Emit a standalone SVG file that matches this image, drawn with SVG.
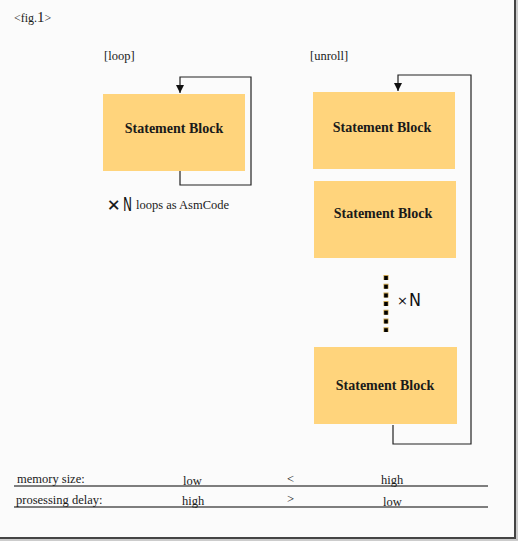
<svg xmlns="http://www.w3.org/2000/svg" width="519" height="541" viewBox="0 0 519 541">
<style>
.t{font-family:"Liberation Serif","DejaVu Serif",serif;fill:#1a1a1a}
.b{font-weight:bold;font-size:14px;text-anchor:middle}
.s{font-size:12.5px}
.box{fill:#FFD47C}
.ln{fill:none;stroke:#222;stroke-width:1.2}
.n{font-family:"DejaVu Sans","Liberation Sans",sans-serif;fill:#111}
</style>
<defs>
<marker id="ah" viewBox="0 0 8 10" refX="8" refY="5" markerWidth="8" markerHeight="10" markerUnits="userSpaceOnUse" orient="auto">
<path d="M0,1 L8,5 L0,9 z" fill="#111"/>
</marker>
</defs>
<rect x="0" y="0" width="519" height="541" fill="#ffffff"/>
<rect x="0" y="0" width="514" height="537" fill="#fbfbfb"/>
<line x1="515" y1="0" x2="515" y2="538" stroke="#444" stroke-width="2"/>
<line x1="0" y1="538" x2="516" y2="538" stroke="#444" stroke-width="2"/>
<line x1="517" y1="0" x2="517" y2="540" stroke="#bbb" stroke-width="1.5"/>
<line x1="0" y1="540" x2="518" y2="540" stroke="#bbb" stroke-width="1.5"/>

<text class="t" x="14" y="22" font-size="12">&lt;fig.<tspan font-size="15">1</tspan>&gt;</text>
<text class="t" x="104" y="60" font-size="12.5">[loop]</text>
<text class="t" x="310" y="60" font-size="12.5">[unroll]</text>

<g id="connectors">
<path class="ln" d="M180,171 V185 H251 V77 H180 V93" marker-end="url(#ah)"/>
<path class="ln" d="M393,425 V444 H471 V75 H398 V91" marker-end="url(#ah)"/>
<line x1="386" y1="275" x2="386" y2="332" stroke="#c9a24a" stroke-width="5" stroke-dasharray="5,3.7"/>
<line x1="386" y1="275.5" x2="386" y2="332" stroke="#000" stroke-width="3.6" stroke-dasharray="4,4.7" stroke-dashoffset="-0.5"/>
</g>

<g id="loop-block">
<rect class="box" x="103" y="94" width="142" height="77"/>
<text class="t b" x="174" y="133">Statement Block</text>
</g>
<g id="loop-label">
<text class="n" x="107" y="210" font-size="16" stroke="#111" stroke-width="0.4">×</text>
<text class="n" x="123" y="211" font-size="20" textLength="9" lengthAdjust="spacingAndGlyphs">N</text>
<text class="t s" x="136" y="209">loops as AsmCode</text>
</g>

<g id="unroll-block-1">
<rect class="box" x="313" y="92" width="142" height="77"/>
<text class="t b" x="382" y="132">Statement Block</text>
</g>
<g id="unroll-block-2">
<rect class="box" x="314" y="181" width="142" height="77"/>
<text class="t b" x="383" y="218">Statement Block</text>
</g>
<g id="unroll-block-3">
<rect class="box" x="314" y="347" width="143" height="77"/>
<text class="t b" x="385" y="390">Statement Block</text>
</g>
<g id="xn">
<text class="n" x="397" y="305" font-size="13">×</text>
<text class="n" x="409" y="306" font-size="17" textLength="12" lengthAdjust="spacingAndGlyphs">N</text>
</g>

<g id="table">
<line x1="14" y1="486" x2="488" y2="486" stroke="#555" stroke-width="1.3"/>
<line x1="14" y1="507" x2="488" y2="507" stroke="#555" stroke-width="1.3"/>
<text class="t s" x="17" y="483">memory size:</text>
<text class="t s" x="183" y="485">low</text>
<text class="t s" x="287" y="483">&lt;</text>
<text class="t s" x="381" y="484">high</text>
<text class="t s" x="16" y="504">prosessing delay:</text>
<text class="t s" x="182" y="505">high</text>
<text class="t s" x="287" y="503">&gt;</text>
<text class="t s" x="383" y="506">low</text>
</g>
</svg>
